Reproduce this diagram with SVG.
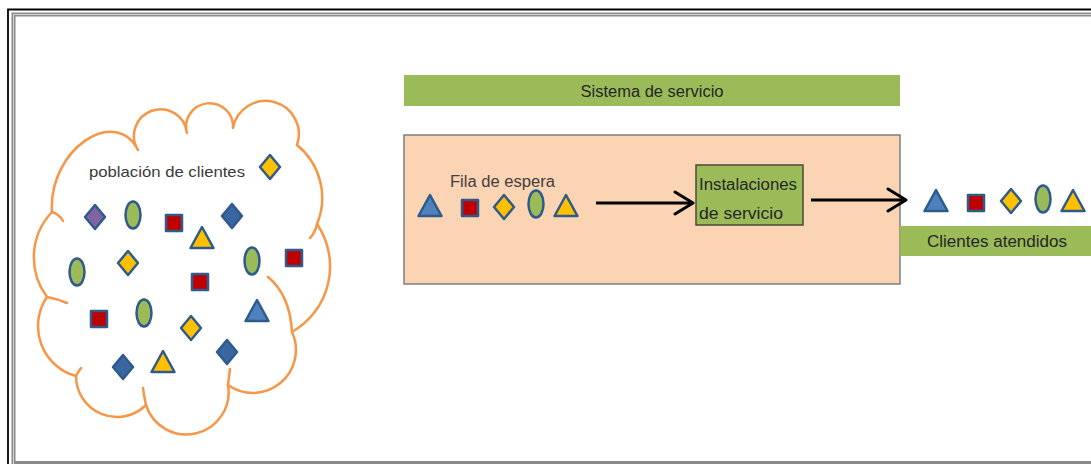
<svg xmlns="http://www.w3.org/2000/svg" xmlns:xlink="http://www.w3.org/1999/xlink" width="1091" height="464" viewBox="0 0 1091 464">
  <style>
    .frameOuter { fill: none; stroke: #000; stroke-width: 1.8; }
    .frameInner { fill: none; stroke: #8a8a8a; stroke-width: 4; }
    .frameShine { fill: none; stroke: #d4d4d4; stroke-width: 1; }
    .cloud { fill: #fff; stroke: #F79646; stroke-width: 2.5; stroke-linejoin: round; }
    .cloudTick { fill: none; stroke: #F79646; stroke-width: 2.5; stroke-linecap: round; }
    .bar { fill: #9BBB59; }
    .system { fill: #FBD4B4; stroke: #7f7f7f; stroke-width: 1.5; }
    .facility { fill: #9BBB59; stroke: #4a4a3a; stroke-width: 1.5; }
    .shape { stroke: #2F5A8C; stroke-width: 2.5; stroke-linejoin: round; }
    .red { fill: #C00000; }
    .yel { fill: #FFC000; }
    .grn { fill: #9BBB59; }
    .blu { fill: #4F81BD; }
    .dbl { fill: #3A66A2; }
    .pur { fill: #8064A2; }
    .lbl { font-family: "Liberation Sans", Arial, sans-serif; font-size: 15px; fill: #3a3a3a; }
    .conn { fill: none; stroke: #000; stroke-width: 3; }
  </style>
  <defs>
    <path id="dia" d="M0,-12 L10,0 L0,12 L-10,0 Z"/>
    <rect id="sq" x="-8" y="-8" width="16" height="16"/>
    <ellipse id="ell" cx="0" cy="0" rx="7.5" ry="13.5"/>
    <path id="tri" d="M0,-11 L11.5,10 L-11.5,10 Z"/>
    <marker id="openHead" markerUnits="userSpaceOnUse" markerWidth="24" markerHeight="30" refX="20" refY="13" orient="auto">
      <path d="M2,2 L20,13 L2,24" fill="none" stroke="#000" stroke-width="3" stroke-linecap="round" stroke-linejoin="round"/>
    </marker>
  </defs>

  <rect width="1091" height="464" fill="#fff"/>

  <!-- page frame -->
  <g id="frame">
    <path class="frameOuter" d="M8,464 V9.5 H1091"/>
    <path class="frameInner" d="M13.5,466 V14.5 H1091 M13.5,463 H1091"/>
    <path class="frameShine" d="M13.5,466 V14.5 H1091"/>
  </g>

  <!-- customer population cloud -->
  <g id="population">
    <path class="cloud" d="M52,212 C48,150 115,105 138,150 A26.6,26.6 0 1 1 187,133 A23.45,23.45 0 1 1 233,128 A33.2,33.2 0 1 1 297,145 A68,68 0 0 1 317,224 A75.5,75.5 0 0 1 292,332 A43,43 0 0 1 228,385 A42.3,42.3 0 0 1 146,405 A41,41 0 0 1 76,376 A51.7,51.7 0 0 1 47,297 A66,66 0 0 1 52,212 Z"/>
    <path class="cloudTick" d="M52,212 Q59,214 63,221 M317,224 Q315,233 310,238 M268,277 Q290,295 292,332 M228,385 Q229,377 230,369 M146,405 Q144,396 143,388 M76,376 Q78,372 81,368 M47,297 Q58,299 67,303"/>
    <text class="lbl" x="89" y="177" textLength="156" lengthAdjust="spacingAndGlyphs">población de clientes</text>
    <use href="#dia" class="shape yel" x="270" y="167"/>
    <use href="#dia" class="shape pur" x="95" y="217"/>
    <use href="#ell" class="shape grn" x="133" y="215"/>
    <use href="#sq" class="shape red" x="174" y="223"/>
    <use href="#tri" class="shape yel" x="202" y="238"/>
    <use href="#dia" class="shape dbl" x="232" y="216"/>
    <use href="#dia" class="shape yel" x="128" y="263"/>
    <use href="#ell" class="shape grn" x="77" y="272"/>
    <use href="#sq" class="shape red" x="200" y="282"/>
    <use href="#ell" class="shape grn" x="252" y="261"/>
    <use href="#sq" class="shape red" x="294" y="258"/>
    <use href="#tri" class="shape blu" x="257" y="311"/>
    <use href="#sq" class="shape red" x="99" y="319"/>
    <use href="#ell" class="shape grn" x="144" y="313"/>
    <use href="#dia" class="shape yel" x="191" y="328"/>
    <use href="#dia" class="shape dbl" x="227" y="352"/>
    <use href="#dia" class="shape dbl" x="123" y="367"/>
    <use href="#tri" class="shape yel" x="163" y="362"/>
  </g>

  <!-- service system title bar -->
  <g id="system-title">
    <rect class="bar" x="404" y="75" width="496" height="31"/>
    <text class="lbl" x="652" y="97" text-anchor="middle" textLength="143" lengthAdjust="spacingAndGlyphs" style="font-size:16px;fill:#262626">Sistema de servicio</text>
  </g>

  <!-- service system area -->
  <g id="service-system">
    <rect class="system" x="404" y="135" width="496" height="149"/>
  </g>

  <!-- waiting line -->
  <g id="queue">
    <text class="lbl" x="450" y="187" textLength="105" lengthAdjust="spacingAndGlyphs" style="font-size:16px;fill:#404040">Fila de espera</text>
    <use href="#tri" class="shape blu" x="430" y="206"/>
    <use href="#sq" class="shape red" x="470" y="208"/>
    <use href="#dia" class="shape yel" x="504" y="207"/>
    <use href="#ell" class="shape grn" x="536" y="204"/>
    <use href="#tri" class="shape yel" x="566" y="206"/>
  </g>

  <!-- service facility -->
  <g id="facility">
    <rect class="facility" x="696" y="165" width="107" height="60"/>
    <text class="lbl" x="699" y="190" textLength="98" lengthAdjust="spacingAndGlyphs" style="font-size:16px;fill:#262626">Instalaciones</text>
    <text class="lbl" x="699" y="219" textLength="84" lengthAdjust="spacingAndGlyphs" style="font-size:16px;fill:#262626">de servicio</text>
  </g>

  <!-- served customers -->
  <g id="served">
    <rect class="bar" x="900" y="226" width="191" height="30"/>
    <text class="lbl" x="927" y="247" textLength="140" lengthAdjust="spacingAndGlyphs" style="font-size:16px;fill:#262626">Clientes atendidos</text>
    <use href="#tri" class="shape blu" x="936" y="201"/>
    <use href="#sq" class="shape red" x="976" y="203"/>
    <use href="#dia" class="shape yel" x="1011" y="201"/>
    <use href="#ell" class="shape grn" x="1043" y="199"/>
    <use href="#tri" class="shape yel" x="1073" y="201"/>
  </g>

  <!-- flow arrows -->
  <g id="connectors">
    <path class="conn" d="M596,203 H693" marker-end="url(#openHead)"/>
    <path class="conn" d="M811,200 H906" marker-end="url(#openHead)"/>
  </g>
</svg>
